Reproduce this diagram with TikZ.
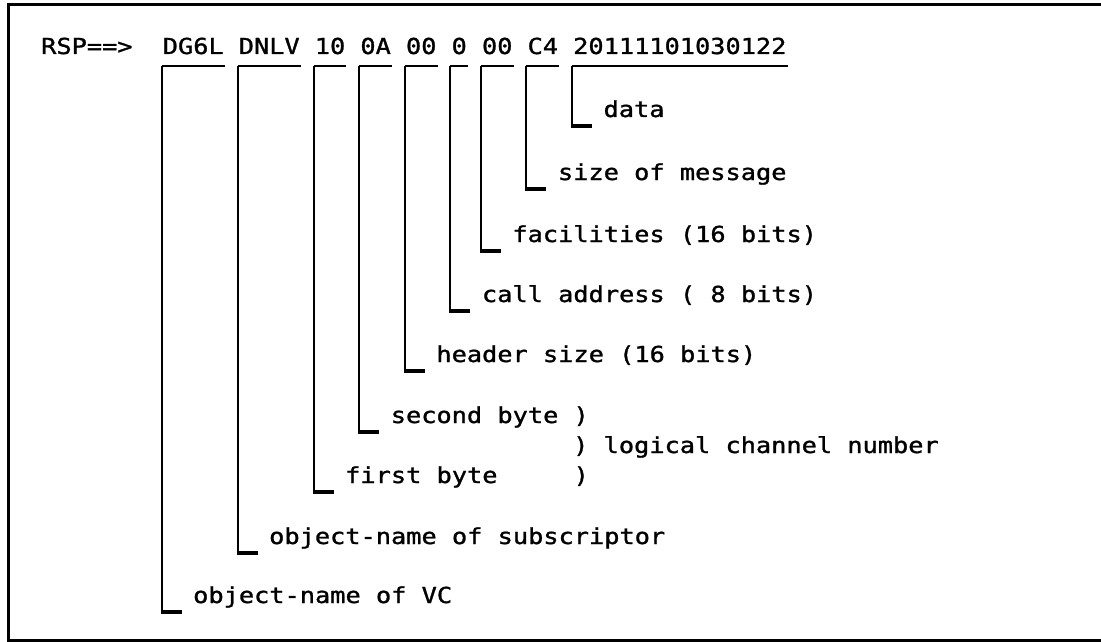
\documentclass[tikz,border=0pt]{standalone}
\usepackage{fontspec}
\newfontfamily\prt[FakeStretch=1.15,FakeBold=1.3]{DejaVu Sans Mono}
% printer face: fixed pitch, spaces as wide as a digit
\newcommand\prtfont{\prt\fontsize{22}{22}\selectfont
  \spaceskip=\fontcharwd\font 48\relax}
\begin{document}
\begin{tikzpicture}[x=1pt,y=-1pt,
  txt/.style={inner sep=0pt,anchor=base west,font=\prtfont},
  frameline/.style={line width=3pt},
  under/.style={line width=2.8pt},
  leader/.style={line width=2pt},
  foot/.style={line width=3.2pt}]
\useasboundingbox (0,0) rectangle (1101,642);
% paper, reaching past the page edge
\fill[white] (-10,-10) rectangle (1115,655);
% listing frame (open on the right)
\draw[frameline] (1101,5) -- (8,5) -- (8,640.5) -- (1101,640.5);

\def\p{15.2}
\def\bl{54}
% response line
\node[txt] (rsp) at (41,\bl) {RSP==>};
\node[txt] (f1)  at (41+8*\p,\bl)  {DG6L};
\node[txt] (f2)  at (41+13*\p,\bl) {DNLV};
\node[txt] (f3)  at (41+18*\p,\bl) {10};
\node[txt] (f4)  at (41+21*\p,\bl) {0A};
\node[txt] (f5)  at (41+24*\p,\bl) {00};
\node[txt] (f6)  at (41+27*\p,\bl) {0};
\node[txt] (f7)  at (41+29*\p,\bl) {00};
\node[txt] (f8)  at (41+32*\p,\bl) {C4};
\node[txt] (f9)  at (41+35*\p,\bl) {20111101030122};

% field descriptions
\node[txt] (l9) at (41+37*\p,117) {data};
\node[txt] (l8) at (41+34*\p,180) {size of message};
\node[txt] (l7) at (41+31*\p,242) {facilities (16 bits)};
\node[txt] (l6) at (41+29*\p,302) {call address ( 8 bits)};
\node[txt] (l5) at (41+26*\p,362) {header size (16 bits)};
\node[txt] (l4) at (41+23*\p,423) {second byte )};
\node[txt] (lc) at (41+35*\p,453) {) logical channel number};
\node[txt] (l3) at (41+20*\p,483) {first byte\ \ \ \ \ )};
\node[txt] (l2) at (41+15*\p,544) {object-name of subscriptor};
\node[txt] (l1) at (41+10*\p,603) {object-name of VC};

% underline each field and lead it down to its description
\foreach \i in {1,...,9}{
  \coordinate (u\i) at ([xshift=-1pt,yshift=-12pt]f\i.base west);
  \coordinate (e\i) at ([xshift=-11.4pt,yshift=-9pt]l\i.base west);
  \draw[under] (u\i) -- ([xshift=1pt,yshift=-12pt]f\i.base east);
  \draw[leader] (u\i) -- (u\i |- e\i);
  \draw[foot] ([xshift=-1pt]u\i |- e\i) -- (e\i);
}
\end{tikzpicture}
\end{document}
